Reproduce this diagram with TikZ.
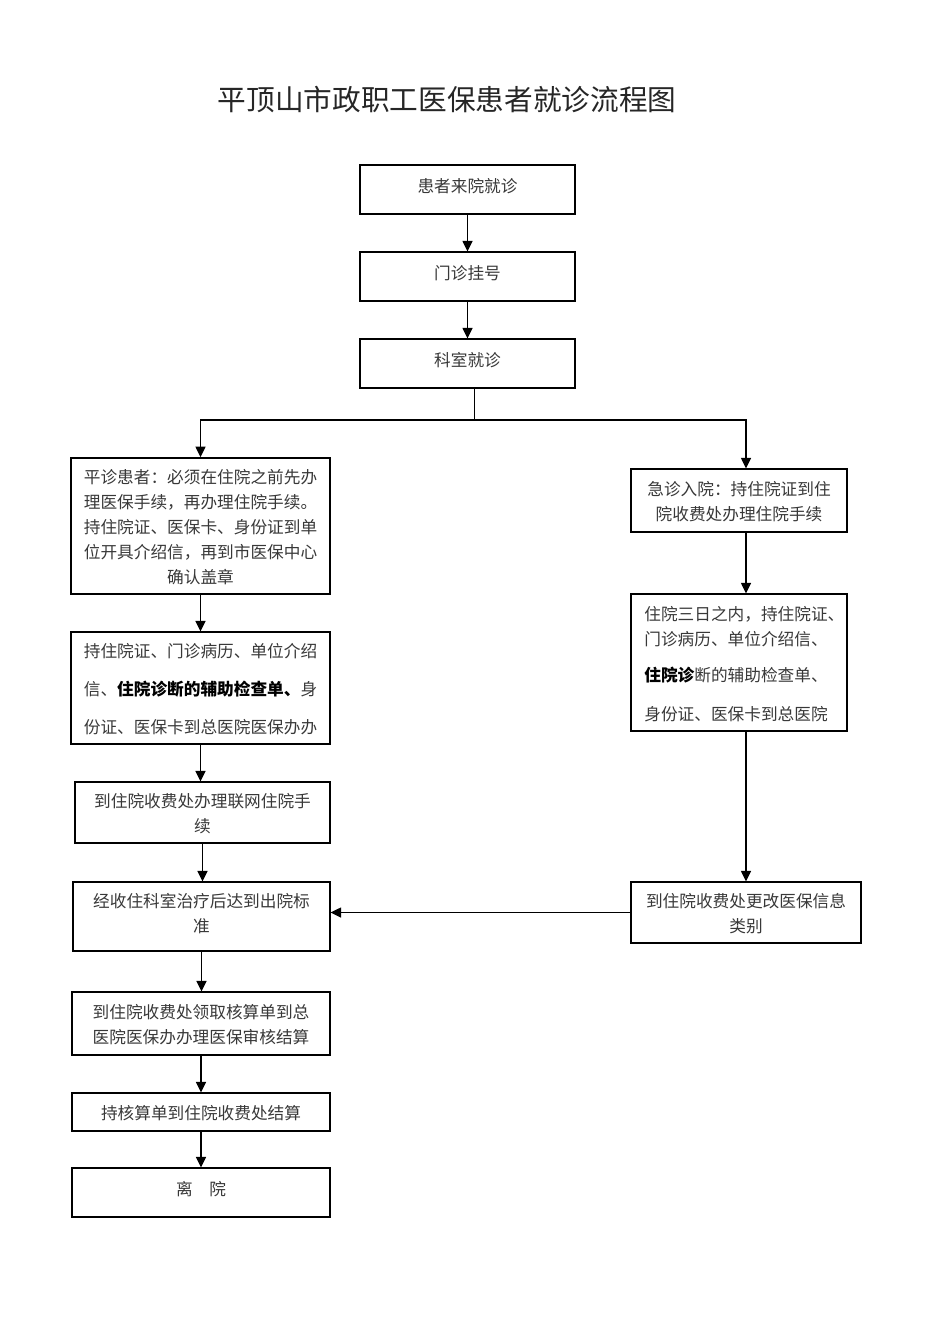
\documentclass[tikz,border=0pt]{standalone}
\usepackage{fontspec}
\setmainfont{Noto Sans CJK SC}
\usepackage{tikz}
\usetikzlibrary{arrows.meta}
\usetikzlibrary{fit}

\begin{document}
\begin{tikzpicture}[x=0.75pt, y=-0.75pt,
  box/.style={draw, rectangle, inner sep=0pt, line width=0.8pt},
  txt/.style={align=center, inner sep=0pt, font=\fontsize{12.5pt}{18.75pt}\selectfont, text=black!78},
  lbl/.style={label={[txt, yshift=-1pt]center:{#1}}},
  lblup/.style={label={[txt, yshift=2.5pt]center:{#1}}},
  arr/.style={-{Triangle[length=8pt,width=7.5pt]}, line width=1.2pt},
  link/.style={line width=0.6pt}]
\useasboundingbox (0,0) rectangle (950,1344);

\node[font=\fontsize{21.5pt}{24pt}\selectfont, text=black!85] (title) at (447,100) {平顶山市政职工医保患者就诊流程图};

% middle column
\node[box, fit={(360,165) (575,214)}, lblup={患者来院就诊}] (visit) {};
\node[box, fit={(360,252) (575,301)}, lblup={门诊挂号}] (reg) {};
\node[box, fit={(360,339) (575,388)}, lblup={科室就诊}] (dept) {};
\draw[line width=1.4pt] (dept.south west) -- (dept.south east);
\coordinate (split) at (474,420);
\coordinate (rsplit) at (746,420);

% left column
\node[box, line width=1.2pt, fit={(71,458) (330,594)}, lbl={平诊患者：必须在住院之前先办\\理医保手续，再办理住院手续。\\持住院证、医保卡、身份证到单\\位开具介绍信，再到市医保中心\\确认盖章}] (normal) {};
\node[box, fit={(71,632) (330,744)}, lbl={持住院证、门诊病历、单位介绍\\[9.75pt]信、\textcolor{black}{\bfseries 住院诊断的辅助检查单、}身\\[9.75pt]份证、医保卡到总医院医保办办}] (docs) {};
\node[box, fit={(75,782) (330,843)}, lbl={到住院收费处办理联网住院手\\续}] (net) {};
\node[box, fit={(73,882) (330,951)}, lblup={经收住科室治疗后达到出院标\\准}] (treat) {};
\node[box, fit={(72,992) (330,1055)}, lbl={到住院收费处领取核算单到总\\医院医保办办理医保审核结算}] (audit) {};
\node[box, fit={(72,1093) (330,1131)}, lbl={持核算单到住院收费处结算}] (settle) {};
\node[box, fit={(72,1168) (330,1217)}, lblup={离\hspace{1em}院}] (leave) {};

% right column
\node[box, fit={(631,469) (847,532)}, lbl={急诊入院：持住院证到住\\院收费处办理住院手续}] (emerg) {};
\node[box, fit={(631,594) (847,731)}, label={[txt, text width=152pt, align=left, xshift=5pt, yshift=-1pt]center:{住院三日之内，持住院证、\\门诊病历、单位介绍信、\\[8pt]\textcolor{black}{\bfseries 住院诊}断的辅助检查单、\\[10.5pt]身份证、医保卡到总医院}}] (emdocs) {};
\node[box, fit={(631,882) (861,943)}, lbl={到住院收费处更改医保信息\\类别}] (change) {};

\draw[arr] (visit) -- (reg);
\draw[arr] (reg) -- (dept);
\draw[link] (dept.south -| split) -- (split);
\draw[arr] (split) -- (normal.north |- split) -- (normal.north);
\draw[arr] (split) -- (rsplit) -- (rsplit |- emerg.north);
\draw[arr] (normal.south) -- (normal.south |- docs.north);
\draw[arr] (docs.south) -- (docs.south |- net.north);
\draw[arr] (net.south) -- (net.south |- treat.north);
\draw[arr] (treat.south) -- (treat.south |- audit.north);
\draw[arr] (audit.south) -- (audit.south |- settle.north);
\draw[arr] (settle.south) -- (settle.south |- leave.north);
\draw[arr] (emerg.south -| rsplit) -- (rsplit |- emdocs.north);
\draw[arr] (emdocs.south -| rsplit) -- (rsplit |- change.north);
\draw[arr] (change.west) -- (change.west -| treat.east);
\end{tikzpicture}
\end{document}
